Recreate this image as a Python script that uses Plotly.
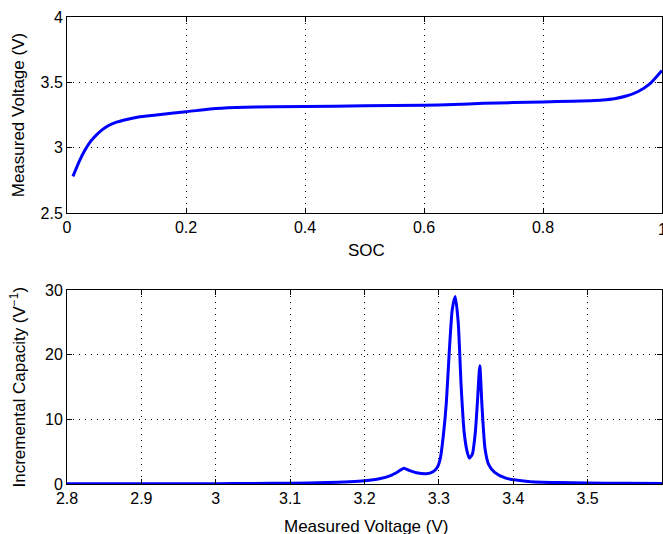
import plotly.graph_objects as go
from plotly.subplots import make_subplots

# Top panel: SOC vs measured voltage
soc = [0.01, 0.02, 0.03, 0.04, 0.05, 0.06, 0.07, 0.08, 0.10, 0.12, 0.15, 0.20, 0.25,
       0.30, 0.40, 0.50, 0.60, 0.65, 0.70, 0.75, 0.80, 0.85, 0.88, 0.90, 0.92, 0.94,
       0.96, 0.98, 1.00]
voltage = [2.78, 2.89, 2.98, 3.05, 3.10, 3.14, 3.17, 3.19, 3.215, 3.235, 3.25, 3.275, 3.30,
           3.31, 3.315, 3.32, 3.325, 3.33, 3.34, 3.345, 3.35, 3.355, 3.36, 3.365, 3.375, 3.395,
           3.43, 3.49, 3.59]
soc_ticks = [0, 0.2, 0.4, 0.6, 0.8, 1]
volt_ticks = [2.5, 3, 3.5, 4]

# Bottom panel: incremental capacity vs measured voltage
ic_v = [2.80, 2.90, 3.00, 3.05, 3.10, 3.15, 3.18, 3.20, 3.22, 3.235, 3.245, 3.253,
        3.26, 3.27, 3.283, 3.292, 3.298, 3.302, 3.306, 3.310, 3.314, 3.318, 3.322,
        3.326, 3.330, 3.334, 3.338, 3.341, 3.345, 3.349, 3.352, 3.355, 3.358, 3.362,
        3.367, 3.375, 3.39, 3.42, 3.46, 3.50, 3.55, 3.60]
ic = [0.02, 0.03, 0.05, 0.08, 0.12, 0.22, 0.35, 0.5, 0.8, 1.3, 1.9, 2.45,
      2.1, 1.75, 1.6, 1.9, 2.6, 4.0, 7.5, 12.5, 20.5, 27.0, 29.0,
      25.0, 15.0, 8.0, 5.0, 4.0, 4.6, 8.0, 13.0, 18.3, 12.0, 5.5,
      3.0, 1.8, 0.9, 0.4, 0.22, 0.15, 0.1, 0.08]
v_ticks = [2.8, 2.9, 3.0, 3.1, 3.2, 3.3, 3.4, 3.5]
v_ticktext = ["2.8", "2.9", "3", "3.1", "3.2", "3.3", "3.4", "3.5"]
ic_ticks = [0, 10, 20, 30]

fig = make_subplots(rows=2, cols=1, vertical_spacing=0.1)
fig.add_trace(go.Scatter(x=soc, y=voltage, mode="lines",
                         line=dict(color="#0000FF", width=3, shape="spline", smoothing=0.6)), row=1, col=1)
fig.add_trace(go.Scatter(x=ic_v, y=ic, mode="lines",
                         line=dict(color="#0000FF", width=3, shape="spline", smoothing=0.6)), row=2, col=1)

FONT = "Liberation Sans, Arial, Helvetica"
tickfont = dict(family=FONT, size=16, color="black")
titlefont = dict(family=FONT, size=17, color="black")
axcommon = dict(showline=True, linecolor="black", linewidth=1, mirror="ticks", ticks="inside",
                ticklen=5, tickcolor="black", showgrid=True, gridcolor="black", gridwidth=1,
                griddash="1px,5px", zeroline=False, automargin=False, tickfont=tickfont)

fig.update_xaxes(**axcommon)
fig.update_yaxes(**axcommon)

fig.update_layout(
    width=663, height=534,
    margin=dict(l=67, r=1, t=17, b=50),
    plot_bgcolor="white", paper_bgcolor="white", showlegend=False,
    font=tickfont,
    xaxis=dict(domain=[0, 1], range=[0, 1], tickvals=soc_ticks,
               ticktext=["0", "0.2", "0.4", "0.6", "0.8", ""]),
    yaxis=dict(domain=[0.5803, 1], range=[2.5, 4], tickvals=volt_ticks,
               ticktext=["2.5", "3", "3.5", "4"]),
    xaxis2=dict(domain=[0, 1], range=[2.8, 3.6], tickvals=v_ticks, ticktext=v_ticktext),
    yaxis2=dict(domain=[0, 0.4154], range=[0, 30], tickvals=ic_ticks),
)

# Axis titles and the clipped "1" tick label as annotations for exact placement
fig.add_annotation(text="1", xref="x", yref="paper", x=soc_ticks[-1], y=0.546,
                   showarrow=False, font=tickfont, xanchor="center", yanchor="middle")
fig.add_annotation(text="SOC", xref="paper", yref="paper", x=0.503, y=0.499,
                   showarrow=False, font=titlefont, xanchor="center", yanchor="middle")
fig.add_annotation(text="Measured Voltage (V)", xref="paper", yref="paper", x=0.503, y=-0.092,
                   showarrow=False, font=titlefont, xanchor="center", yanchor="middle")
fig.add_annotation(text="Measured Voltage (V)", xref="paper", yref="paper", x=-0.082, y=0.79,
                   showarrow=False, font=titlefont, textangle=-90, xanchor="center", yanchor="middle")
fig.add_annotation(text="Incremental Capacity (V<sup>−1</sup>)", xref="paper", yref="paper", x=-0.082, y=0.207,
                   showarrow=False, font=titlefont, textangle=-90, xanchor="center", yanchor="middle")

fig.write_html("out.html", config={"displayModeBar": False},
               post_script="document.body.style.margin='0px';")
